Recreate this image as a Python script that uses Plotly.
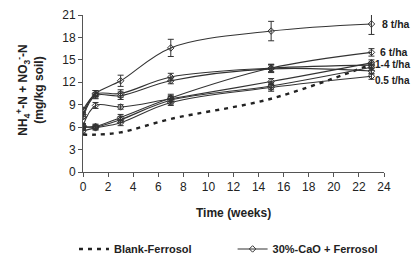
import plotly.graph_objects as go

weeks = [0, 1, 3, 7, 15, 23]

blank = [5.0, 5.0, 5.3, 7.1, 9.8, 14.4]

cao_8 = [8.3, 10.5, 12.2, 16.6, 18.85, 19.8]
cao_1 = [7.7, 10.4, 10.5, 12.7, 13.9, 14.3]
cao_2 = [7.4, 10.2, 10.2, 12.2, 13.8, 13.5]
cao_3 = [6.2, 8.9, 8.7, 9.8, 12.1, 14.6]
cao_4 = [6.1, 6.0, 7.0, 9.6, 11.5, 14.0]
cao_6 = [6.0, 6.1, 7.3, 9.9, 13.9, 16.0]
cao_05 = [5.5, 5.9, 6.6, 9.3, 11.3, 12.8]

err_8 = [0.3, 0.4, 0.75, 1.15, 1.3, 1.4]
err_1 = [0.3, 0.5, 0.5, 0.5, 0.5, 0.4]
err_2 = [0.3, 0.4, 0.5, 0.4, 0.5, 0.4]
err_3 = [0.3, 0.4, 0.3, 0.4, 0.4, 0.4]
err_4 = [0.3, 0.3, 0.4, 0.5, 0.5, 0.4]
err_6 = [0.3, 0.3, 0.4, 0.5, 0.5, 0.5]
err_05 = [0.3, 0.3, 0.4, 0.4, 0.5, 0.4]

series = [
    (cao_8, err_8), (cao_1, err_1), (cao_2, err_2), (cao_3, err_3),
    (cao_4, err_4), (cao_6, err_6), (cao_05, err_05),
]

# (text, y value, paper x, anchor, font size)
labels = [("8 t/ha", 19.8, 1.093, "right", 10.5), ("6 t/ha", 16.1, 0.98, "left", 10.5),
          ("1-4 t/ha", 14.4, 1.093, "right", 10), ("0.5 t/ha", 12.3, 1.093, "right", 10)]

dark = "#333333"
fig = go.Figure()

fig.add_trace(go.Scatter(
    x=weeks, y=blank, mode="lines", name="<b>Blank-Ferrosol</b>", legend="legend",
    line=dict(color="#222222", width=2.4, dash="4px,5px", shape="spline"),
))

for i, (vals, errs) in enumerate(series):
    fig.add_trace(go.Scatter(
        x=weeks, y=vals, mode="lines+markers", legend="legend2",
        name="<b>30%-CaO + Ferrosol</b>", showlegend=(i == 0),
        line=dict(color=dark, width=1.1, shape="spline"),
        marker=dict(symbol="diamond-open", size=5, color=dark, line=dict(width=1)),
        error_y=dict(type="data", array=errs, visible=True, color=dark,
                     thickness=1, width=3),
    ))

for text, yv, xp, anchor, fs in labels:
    fig.add_annotation(
        x=xp, y=yv, xref="paper", yref="y",
        text=f"<b>{text}</b>", showarrow=False, xanchor=anchor, yanchor="middle",
        font=dict(size=fs, color="#222222"),
    )

fig.add_annotation(
    x=0.5, y=-0.26, xref="paper", yref="paper", text="<b>Time (weeks)</b>",
    showarrow=False, xanchor="center", yanchor="middle", font=dict(size=12),
)
fig.add_annotation(
    x=-0.175, y=0.52, xref="paper", yref="paper", textangle=-90,
    text="<b>NH<sub>4</sub><sup>+</sup>-N + NO<sub>3</sub><sup>-</sup>-N<br>(mg/kg soil)</b>",
    showarrow=False, xanchor="center", yanchor="middle", font=dict(size=12),
)

legend_common = dict(orientation="h", yanchor="middle", y=-0.49, xanchor="left",
                     font=dict(size=11, color="#222222"), bgcolor="rgba(0,0,0,0)",
                     itemwidth=30)

fig.update_layout(
    width=411, height=252,
    margin=dict(l=75, r=35, t=7, b=88, autoexpand=False),
    paper_bgcolor="white", plot_bgcolor="white",
    font=dict(family="Arial, Liberation Sans, sans-serif", size=12, color="#222222"),
    showlegend=True,
    legend=dict(x=-0.03, **legend_common),
    legend2=dict(x=0.497, **legend_common),
    xaxis=dict(
        range=[0, 24], tickvals=list(range(0, 25, 2)), showgrid=False, zeroline=False,
        showline=True, linecolor="#555555", linewidth=1, ticks="outside", ticklen=4,
        tickcolor="#555555", tickfont=dict(size=12), automargin=False,
    ),
    yaxis=dict(
        range=[0, 21], tickvals=list(range(0, 22, 3)), showgrid=False, zeroline=False,
        showline=True, linecolor="#555555", linewidth=1, ticks="outside", ticklen=4,
        tickcolor="#555555", tickfont=dict(size=12), automargin=False,
    ),
)

fig.write_html("out.html")
